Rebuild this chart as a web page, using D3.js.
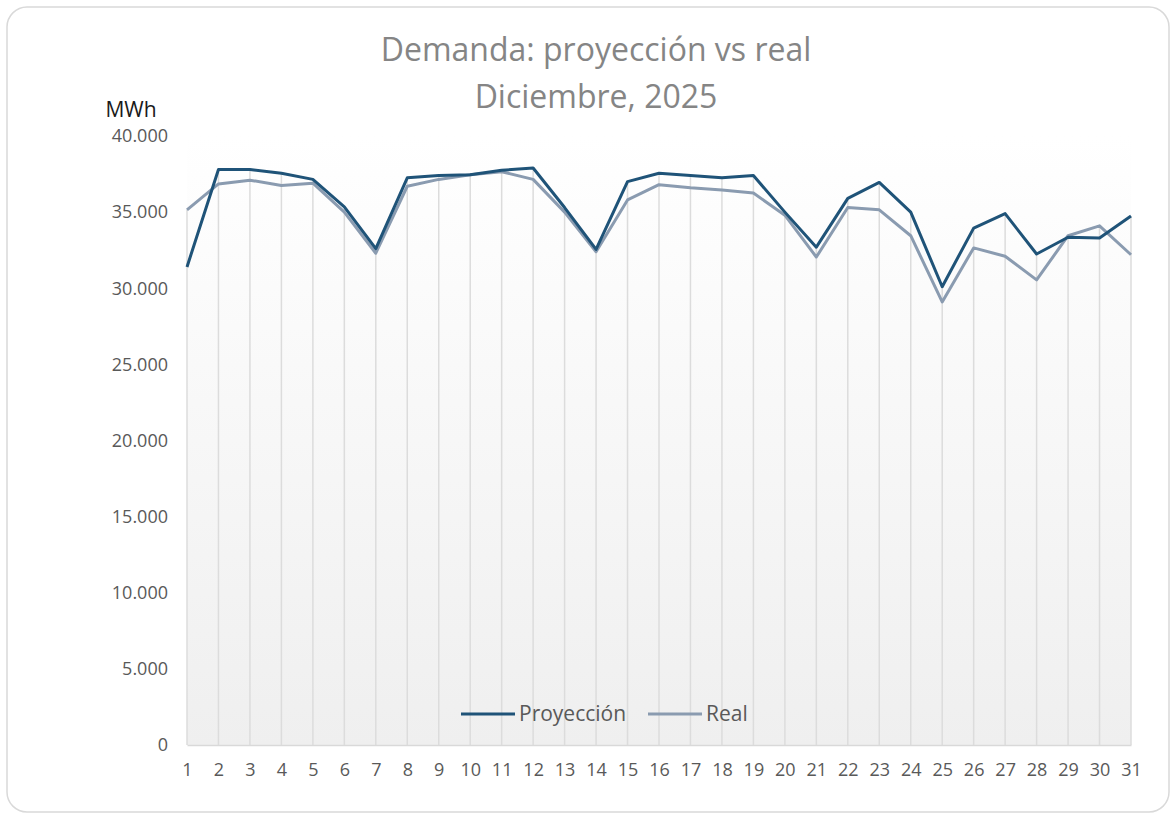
<!DOCTYPE html>
<html>
<head>
<meta charset="utf-8">
<script src="https://cdn.jsdelivr.net/npm/d3@7"></script>
<style>
  body { margin: 0; background: #fff; }
  svg { display: block; }
</style>
</head>
<body>
<div id="chart"></div>
<script>
var svgWidth = 1175;
var svgHeight = 813;

// data (MWh per day, December 2025)
var days = d3.range(1, 32);
var proyeccion = [31400, 37800, 37800, 37550, 37150, 35350, 32600, 37250, 37400, 37450,
  37750, 37900, 35300, 32550, 37000, 37550, 37400, 37250, 37400, 35000,
  32700, 35900, 36950, 35000, 30100, 33950, 34900, 32250, 33350, 33300, 34750];
var real = [35150, 36850, 37100, 36750, 36900, 35000, 32300, 36700, 37150, 37450,
  37650, 37150, 35000, 32400, 35800, 36800, 36600, 36450, 36250, 34800,
  32050, 35300, 35150, 33450, 29100, 32650, 32100, 30550, 33450, 34100, 32200];
var yTicks = [0, 5000, 10000, 15000, 20000, 25000, 30000, 35000, 40000];
var seriesNames = ["Proyección", "Real"];
var seriesColors = ["#1f5378", "#8a9bb0"];

var margin = { top: 136, right: 44, bottom: 68, left: 187 };
var width = svgWidth - margin.left - margin.right;
var height = svgHeight - margin.top - margin.bottom;

var locale = d3.formatLocale({ decimal: ",", thousands: ".", grouping: [3], currency: ["", ""] });
var fmt = locale.format(",d");

var svg = d3.select("#chart")
  .append("svg")
  .attr("width", svgWidth)
  .attr("height", svgHeight);

// card outline
svg.append("rect")
  .attr("x", 7).attr("y", 7)
  .attr("width", 1162).attr("height", 805)
  .attr("rx", 20)
  .attr("fill", "#fff")
  .attr("stroke", "#d9d9d9")
  .attr("stroke-width", 1.5);

var defs = svg.append("defs");
var grad = defs.append("linearGradient")
  .attr("id", "bg").attr("x1", 0).attr("y1", 0).attr("x2", 0).attr("y2", 1);
grad.append("stop").attr("offset", "0%").attr("stop-color", "#ffffff");
grad.append("stop").attr("offset", "100%").attr("stop-color", "#efefef");

var chartGroup = svg.append("g")
  .attr("transform", `translate(${margin.left}, ${margin.top})`);

var xScale = d3.scalePoint()
  .domain(days)
  .range([0, width]);

var yScale = d3.scaleLinear()
  .domain([0, 40000])
  .range([height, 0]);

// plot background
chartGroup.append("rect")
  .attr("x", 0).attr("y", yScale(40000))
  .attr("width", width).attr("height", height)
  .attr("fill", "url(#bg)");

// drop lines from the higher series to the axis
chartGroup.selectAll(".drop")
  .data(days)
  .enter()
  .append("line")
  .attr("x1", d => xScale(d))
  .attr("x2", d => xScale(d))
  .attr("y1", (d, i) => yScale(Math.max(proyeccion[i], real[i])))
  .attr("y2", height)
  .attr("stroke", "#dcdcdc")
  .attr("stroke-width", 1.5);

// axes
var bottomAxis = d3.axisBottom(xScale).tickSize(0).tickPadding(18);
var xAxis = chartGroup.append("g")
  .attr("transform", `translate(0, ${height})`)
  .call(bottomAxis);
xAxis.select(".domain").attr("stroke", "#d9d9d9").attr("stroke-width", 1.5);
xAxis.selectAll("text")
  .attr("fill", "#595959")
  .style("font-family", "'Open Sans', sans-serif")
  .style("font-size", "18px");

var leftAxis = d3.axisLeft(yScale).tickValues(yTicks).tickFormat(fmt).tickSize(0).tickPadding(19);
var yAxis = chartGroup.append("g").call(leftAxis);
yAxis.select(".domain").remove();
yAxis.selectAll("text")
  .attr("fill", "#595959")
  .style("font-family", "'Open Sans', sans-serif")
  .style("font-size", "18px");

// series lines
var line = d3.line()
  .x((d, i) => xScale(days[i]))
  .y(d => yScale(d));

chartGroup.append("path")
  .datum(real)
  .attr("fill", "none")
  .attr("stroke", seriesColors[1])
  .attr("stroke-width", 3)
  .attr("stroke-linejoin", "round")
  .attr("d", line);

chartGroup.append("path")
  .datum(proyeccion)
  .attr("fill", "none")
  .attr("stroke", seriesColors[0])
  .attr("stroke-width", 3)
  .attr("stroke-linejoin", "round")
  .attr("d", line);

// title
var title = svg.append("g")
  .attr("fill", "#858585")
  .attr("text-anchor", "middle")
  .style("font-family", "'Open Sans', sans-serif")
  .style("font-size", "32px");
title.append("text").attr("x", 596).attr("y", 61).text("Demanda: proyección vs real");
title.append("text").attr("x", 596).attr("y", 108).text("Diciembre, 2025");

// unit label
svg.append("text")
  .attr("x", 131).attr("y", 117)
  .attr("text-anchor", "middle")
  .attr("fill", "#1a1a1a")
  .style("font-family", "'Open Sans', sans-serif")
  .style("font-size", "21px")
  .text("MWh");

// legend
var legendItems = [
  { name: seriesNames[0], color: seriesColors[0], x: 461 },
  { name: seriesNames[1], color: seriesColors[1], x: 648 }
];
var legend = svg.append("g");
legendItems.forEach(function(item) {
  legend.append("line")
    .attr("x1", item.x).attr("x2", item.x + 54)
    .attr("y1", 714).attr("y2", 714)
    .attr("stroke", item.color)
    .attr("stroke-width", 3);
  legend.append("text")
    .attr("x", item.x + 58).attr("y", 721)
    .attr("fill", "#595959")
    .style("font-family", "'Open Sans', sans-serif")
    .style("font-size", "21px")
    .text(item.name);
});
</script>
</body>
</html>
